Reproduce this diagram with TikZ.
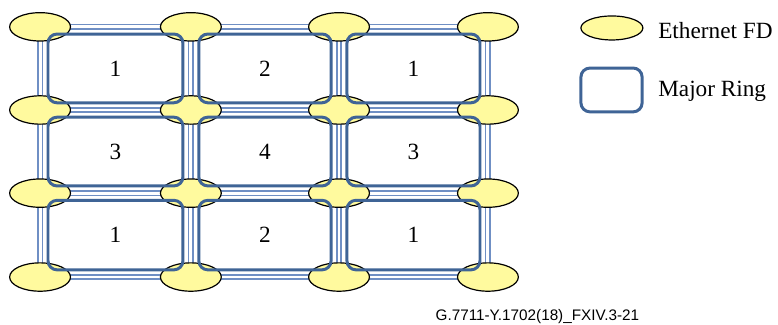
\documentclass[tikz,border=0pt]{standalone}
\usepackage{fontspec}
\setmainfont{Liberation Serif}
\setsansfont{Liberation Sans}
\usepackage{xcolor}
\definecolor{ringBlue}{HTML}{3F6496}
\definecolor{linkBlue}{HTML}{6F8FC4}
\definecolor{fdYellow}{HTML}{FFFA9E}
\usetikzlibrary{shapes.geometric,backgrounds,calc}
\tikzset{
  fd/.style={ellipse, draw=black, line width=0.9pt, fill=fdYellow, minimum width=1.61cm, minimum height=0.75cm, inner sep=0pt},
  link/.style={draw=linkBlue, line width=1.1pt, double=white, double distance=2.2pt},
  ring/.style={draw=ringBlue, line width=2.25pt, rounded corners=0.24cm},
  cellnum/.style={font=\fontsize{17.5}{20}\selectfont},
  legendtext/.style={font=\fontsize{17.5}{20}\selectfont, anchor=base west, inner sep=0pt},
}

\begin{document}
\begin{tikzpicture}
  % Ethernet FD grid
  \node[fd] (fd11) at (1.06cm,-0.71cm) {};
  \node[fd] (fd12) at (5.05cm,-0.71cm) {};
  \node[fd] (fd13) at (8.97cm,-0.71cm) {};
  \node[fd] (fd14) at (12.91cm,-0.71cm) {};
  \node[fd] (fd21) at (1.06cm,-2.91cm) {};
  \node[fd] (fd22) at (5.05cm,-2.91cm) {};
  \node[fd] (fd23) at (8.97cm,-2.91cm) {};
  \node[fd] (fd24) at (12.91cm,-2.91cm) {};
  \node[fd] (fd31) at (1.06cm,-5.11cm) {};
  \node[fd] (fd32) at (5.05cm,-5.11cm) {};
  \node[fd] (fd33) at (8.97cm,-5.11cm) {};
  \node[fd] (fd34) at (12.91cm,-5.11cm) {};
  \node[fd] (fd41) at (1.06cm,-7.33cm) {};
  \node[fd] (fd42) at (5.05cm,-7.33cm) {};
  \node[fd] (fd43) at (8.97cm,-7.33cm) {};
  \node[fd] (fd44) at (12.91cm,-7.33cm) {};
  \begin{scope}[on background layer]
    \filldraw[fill=white, draw=none] (0cm,0cm) rectangle (20.585cm,-8.599cm);
    % links between neighbouring FDs
    \draw[link] (fd11.center) -- (fd12.center) -- (fd13.center) -- (fd14.center);
    \draw[link] (fd21.center) -- (fd22.center) -- (fd23.center) -- (fd24.center);
    \draw[link] (fd31.center) -- (fd32.center) -- (fd33.center) -- (fd34.center);
    \draw[link] (fd41.center) -- (fd42.center) -- (fd43.center) -- (fd44.center);
    \draw[link] (fd11.center) -- (fd21.center) -- (fd31.center) -- (fd41.center);
    \draw[link] (fd12.center) -- (fd22.center) -- (fd32.center) -- (fd42.center);
    \draw[link] (fd13.center) -- (fd23.center) -- (fd33.center) -- (fd43.center);
    \draw[link] (fd14.center) -- (fd24.center) -- (fd34.center) -- (fd44.center);
  \end{scope}
  % major rings
  \draw[ring] ($(fd11)+(0.21,-0.19)$) rectangle ($(fd22)+(-0.21,0.19)$);
  \draw[ring] ($(fd12)+(0.21,-0.19)$) rectangle ($(fd23)+(-0.21,0.19)$);
  \draw[ring] ($(fd13)+(0.21,-0.19)$) rectangle ($(fd24)+(-0.21,0.19)$);
  \draw[ring] ($(fd21)+(0.21,-0.19)$) rectangle ($(fd32)+(-0.21,0.19)$);
  \draw[ring] ($(fd22)+(0.21,-0.19)$) rectangle ($(fd33)+(-0.21,0.19)$);
  \draw[ring] ($(fd23)+(0.21,-0.19)$) rectangle ($(fd34)+(-0.21,0.19)$);
  \draw[ring] ($(fd31)+(0.21,-0.19)$) rectangle ($(fd42)+(-0.21,0.19)$);
  \draw[ring] ($(fd32)+(0.21,-0.19)$) rectangle ($(fd43)+(-0.21,0.19)$);
  \draw[ring] ($(fd33)+(0.21,-0.19)$) rectangle ($(fd44)+(-0.21,0.19)$);
  \node[cellnum] (c11) at ($(fd11)!0.5!(fd22)$) {1};
  \node[cellnum] (c12) at ($(fd12)!0.5!(fd23)$) {2};
  \node[cellnum] (c13) at ($(fd13)!0.5!(fd24)$) {1};
  \node[cellnum] (c21) at ($(fd21)!0.5!(fd32)$) {3};
  \node[cellnum] (c22) at ($(fd22)!0.5!(fd33)$) {4};
  \node[cellnum] (c23) at ($(fd23)!0.5!(fd34)$) {3};
  \node[cellnum] (c31) at ($(fd31)!0.5!(fd42)$) {1};
  \node[cellnum] (c32) at ($(fd32)!0.5!(fd43)$) {2};
  \node[cellnum] (c33) at ($(fd33)!0.5!(fd44)$) {1};
  % legend
  \node[fd, minimum width=1.64cm, minimum height=0.635cm] (keyFd) at (16.19cm,-0.74cm) {};
  \draw[ring] (15.37cm,-1.80cm) rectangle (16.99cm,-2.96cm);
  \node[legendtext] (keyFdText) at (17.41cm,-1.013cm) {Ethernet FD};
  \node[legendtext] (keyRingText) at (17.41cm,-2.566cm) {Major Ring};
  \node[font=\sffamily\fontsize{11.5}{13}\selectfont, anchor=base, inner sep=0pt] (figId) at (14.22cm,-8.467cm) {G.7711-Y.1702(18)\_FXIV.3-21};
\end{tikzpicture}
\end{document}
